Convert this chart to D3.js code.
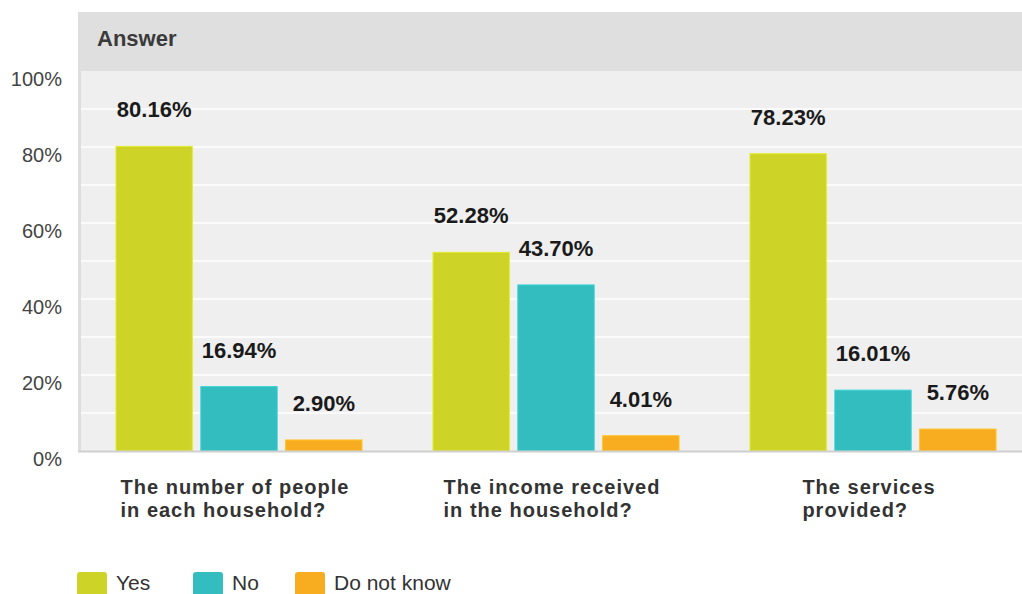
<!DOCTYPE html>
<html>
<head>
<meta charset="utf-8">
<script src="https://cdn.jsdelivr.net/npm/d3@7"></script>
<style>
  html, body { margin: 0; padding: 0; background: #ffffff; }
  svg { display: block; font-family: "Liberation Sans", Arial, sans-serif; }
</style>
</head>
<body>
<svg id="chart" width="1022" height="594"></svg>
<script>
// Survey answers per question
const categories = [
  ["The number of people", "in each household?"],
  ["The income received", "in the household?"],
  ["The services", "provided?"]
];
const seriesNames = ["Yes", "No", "Do not know"];
const yesValues = [80.16, 52.28, 78.23];
const noValues = [16.94, 43.70, 16.01];
const dontKnowValues = [2.90, 4.01, 5.76];
const tickValues = [0, 20, 40, 60, 80, 100];
const gridValues = [10, 20, 30, 40, 50, 60, 70, 80, 90];
const seriesColors = ["#cdd327", "#33bdbf", "#f7ad1f"];

const series = [yesValues, noValues, dontKnowValues];
const svg = d3.select("#chart");

const plot = { left: 81, right: 1032, top: 71, bottom: 451 };

// Header band with title
svg.append("rect")
  .attr("x", 78).attr("y", 12)
  .attr("width", 1022 - 78).attr("height", plot.top - 12)
  .attr("fill", "#dfdfdf");
svg.append("text")
  .attr("x", 97).attr("y", 46)
  .attr("font-size", 22).attr("font-weight", "bold")
  .attr("fill", "#3a3a3a")
  .text("Answer");

// Plot background with left border
svg.append("rect")
  .attr("x", 78).attr("y", plot.top)
  .attr("width", 1022 - 78).attr("height", plot.bottom - plot.top)
  .attr("fill", "#dedede");
svg.append("rect")
  .attr("x", plot.left).attr("y", plot.top)
  .attr("width", 1022 - plot.left).attr("height", plot.bottom - plot.top)
  .attr("fill", "#efefef");

const y = d3.scaleLinear().domain([0, 100]).range([plot.bottom, plot.top]);
const x0 = d3.scaleBand().domain(d3.range(categories.length)).range([plot.left, plot.right]).padding(0);
const x1 = d3.scaleBand().domain(d3.range(seriesNames.length)).range([35, 281]).paddingInner(0.1);

// Horizontal gridlines every 10%
svg.append("g").selectAll("line")
  .data(gridValues)
  .join("line")
  .attr("x1", plot.left).attr("x2", 1022)
  .attr("y1", d => y(d)).attr("y2", d => y(d))
  .attr("stroke", "#fbfbfb").attr("stroke-width", 2);

// Y axis labels
const yAxis = d3.axisLeft(y)
  .tickValues(tickValues)
  .tickFormat(d => d + "%")
  .tickSize(0)
  .tickPadding(0);
const yg = svg.append("g")
  .attr("transform", "translate(62,0)")
  .call(yAxis);
yg.select(".domain").remove();
yg.selectAll("text")
  .attr("font-family", "'Liberation Sans', Arial, sans-serif")
  .attr("font-size", 20)
  .attr("fill", "#444")
  .attr("dy", "14.5")
  .attr("text-anchor", "end");

// Bars
const groups = svg.append("g").selectAll("g")
  .data(categories.map((c, i) => i))
  .join("g")
  .attr("transform", i => `translate(${x0(i)},0)`);

groups.selectAll("rect")
  .data(i => series.map((s, k) => ({ k, v: s[i] })))
  .join("rect")
  .attr("x", d => x1(d.k))
  .attr("width", x1.bandwidth())
  .attr("y", d => y(d.v))
  .attr("height", d => y(0) - y(d.v))
  .attr("fill", d => seriesColors[d.k])
  .attr("stroke", d => d3.color(seriesColors[d.k]).brighter(0.3))
  .attr("stroke-width", 1);

// Value labels
groups.selectAll("text.value")
  .data(i => series.map((s, k) => ({ k, v: s[i] })))
  .join("text")
  .attr("class", "value")
  .attr("x", d => x1(d.k) + x1.bandwidth() / 2)
  .attr("y", d => y(d.v) - 29)
  .attr("text-anchor", "middle")
  .attr("font-size", 22)
  .attr("font-weight", "bold")
  .attr("fill", "#1a1a1a")
  .text(d => d.v.toFixed(2) + "%");

// Baseline
svg.append("line")
  .attr("x1", 78).attr("x2", 1022)
  .attr("y1", plot.bottom + 0.5).attr("y2", plot.bottom + 0.5)
  .attr("stroke", "#cfcfcf").attr("stroke-width", 2);

// Category labels, block centred under each group
const xAxis = svg.append("g");
categories.forEach((lines, i) => {
  const t = xAxis.append("text")
    .attr("font-size", 20)
    .attr("font-weight", "bold")
    .attr("letter-spacing", 1)
    .attr("fill", "#333");
  lines.forEach((ln, j) => {
    t.append("tspan").attr("x", 0).attr("y", 494 + j * 23).text(ln);
  });
  const w = d3.max(t.selectAll("tspan").nodes(), n => n.getComputedTextLength());
  const cx = x0(i) + (x1.range()[0] + x1.range()[1]) / 2;
  t.selectAll("tspan").attr("x", cx - w / 2 - 4);
});

// Legend
const legendX = [77, 193, 295];
const legend = svg.append("g").selectAll("g")
  .data(seriesNames)
  .join("g")
  .attr("transform", (d, i) => `translate(${legendX[i]},572)`);
legend.append("rect")
  .attr("width", 30).attr("height", 26).attr("rx", 3)
  .attr("fill", (d, i) => seriesColors[i]);
legend.append("text")
  .attr("x", 39).attr("y", 18)
  .attr("font-size", 21)
  .attr("fill", "#333")
  .text(d => d);
</script>
</body>
</html>
